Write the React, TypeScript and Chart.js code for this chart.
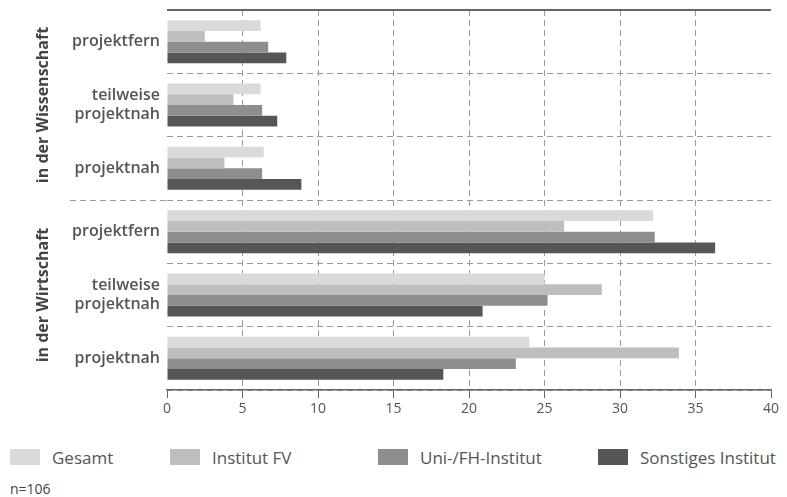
import React, { useEffect, useRef } from "react";
import { Chart, registerables } from "chart.js";

Chart.register(...registerables);

const categories: (string | string[])[] = [
  "projektfern",
  ["teilweise", "projektnah"],
  "projektnah",
  "projektfern",
  ["teilweise", "projektnah"],
  "projektnah",
];
const groupLabels = ["in der Wissenschaft", "in der Wirtschaft"];
const seriesNames = ["Gesamt", "Institut FV", "Uni-/FH-Institut", "Sonstiges Institut"];
const gesamt = [6.2, 6.2, 6.4, 32.2, 25.0, 24.0];
const institutFV = [2.5, 4.4, 3.8, 26.3, 28.8, 33.9];
const uniFH = [6.7, 6.3, 6.3, 32.3, 25.2, 23.1];
const sonstiges = [7.9, 7.3, 8.9, 36.3, 20.9, 18.3];
const xMin = 0;
const xMax = 40;
const xStep = 5;
const footnote = "n=106";

const seriesColors = ["#dadada", "#bebebe", "#8e8e8e", "#565656"];
const FONT = "'Open Sans', 'DejaVu Sans', sans-serif";

const decorPlugin = {
  id: "decor",
  afterDraw(chart: any) {
    const { ctx, chartArea, scales } = chart;
    const y = scales.y;
    ctx.save();
    // top solid line
    ctx.strokeStyle = "#666";
    ctx.lineWidth = 2;
    ctx.beginPath();
    ctx.moveTo(chartArea.left, chartArea.top);
    ctx.lineTo(chartArea.right, chartArea.top);
    ctx.stroke();
    // group separator extension
    const sepY = Math.round((y.getPixelForValue(2) + y.getPixelForValue(3)) / 2) + 0.5;
    ctx.strokeStyle = "#9a9a9a";
    ctx.lineWidth = 1;
    ctx.setLineDash([6, 4]);
    ctx.beginPath();
    ctx.moveTo(70, sepY);
    ctx.lineTo(chartArea.left, sepY);
    ctx.stroke();
    ctx.setLineDash([]);
    // group labels
    ctx.fillStyle = "#444";
    ctx.font = `bold 16px ${FONT}`;
    ctx.textAlign = "center";
    ctx.textBaseline = "middle";
    const centers = [y.getPixelForValue(1), y.getPixelForValue(4)];
    groupLabels.forEach((lab, i) => {
      ctx.save();
      ctx.translate(43, centers[i]);
      ctx.rotate(-Math.PI / 2);
      ctx.fillText(lab, 0, 0);
      ctx.restore();
    });
    ctx.restore();
  },
};

export default function App() {
  const ref = useRef<HTMLCanvasElement | null>(null);

  useEffect(() => {
    document.body.style.margin = "0";
    if (!ref.current) return;
    const data = [gesamt, institutFV, uniFH, sonstiges];
    const chart = new Chart(ref.current, {
      type: "bar",
      data: {
        labels: categories as any,
        datasets: seriesNames.map((name, i) => ({
          label: name,
          data: data[i],
          backgroundColor: seriesColors[i],
          borderWidth: 0,
          categoryPercentage: 0.68,
          barPercentage: 1.0,
        })),
      },
      options: {
        indexAxis: "y",
        animation: false,
        responsive: false,
        maintainAspectRatio: false,
        layout: { padding: { left: 0, top: 10, right: 16, bottom: 0 } },
        plugins: {
          legend: { display: false },
          tooltip: { enabled: false },
        },
        scales: {
          x: {
            type: "linear",
            min: xMin,
            max: xMax,
            position: "bottom",
            afterFit: (s: any) => {
              s.height = 40;
            },
            ticks: {
              stepSize: xStep,
              color: "#555",
              font: { family: FONT, size: 14 },
              padding: 3,
            },
            grid: {
              color: (c: any) =>
                c.tick && (c.tick.value === xMin || c.tick.value === xMax) ? "rgba(0,0,0,0)" : "#9a9a9a",
              tickColor: "#666",
              tickLength: 8,
              lineWidth: 1,
            },
            border: { display: true, color: "#666", width: 1.5, dash: [6, 4] },
          },
          y: {
            type: "category",
            afterFit: (s: any) => {
              s.width = 167;
              s.paddingTop = 0;
              s.paddingBottom = 0;
            },
            ticks: {
              color: "#555",
              font: { family: FONT, size: 16, weight: "600", lineHeight: 1.2 },
              padding: 7,
            },
            grid: {
              offset: true,
              drawTicks: false,
              color: (c: any) =>
                c.index === 0 || c.index >= categories.length ? "rgba(0,0,0,0)" : "#9a9a9a",
              lineWidth: 1,
            },
            border: { display: false, dash: [6, 4] },
          },
        },
      },
      plugins: [decorPlugin],
    });
    return () => chart.destroy();
  }, []);

  const legendPos = [10, 170, 378, 598];
  return (
    <div style={{ position: "relative", width: 787, height: 497, fontFamily: FONT, overflow: "hidden" }}>
      <canvas ref={ref} width={787} height={430} style={{ position: "absolute", left: 0, top: 0, width: 787, height: 430 }} />
      {seriesNames.map((name, i) => (
        <div
          key={name}
          style={{
            position: "absolute",
            left: legendPos[i],
            top: 447,
            height: 20,
            display: "flex",
            alignItems: "center",
            color: "#555",
            fontSize: 17,
            whiteSpace: "nowrap",
          }}
        >
          <span style={{ display: "inline-block", width: 30, height: 16, background: seriesColors[i], marginRight: 12 }} />
          {name}
        </div>
      ))}
      <div style={{ position: "absolute", left: 10, top: 479, color: "#444", fontSize: 14 }}>{footnote}</div>
    </div>
  );
}
